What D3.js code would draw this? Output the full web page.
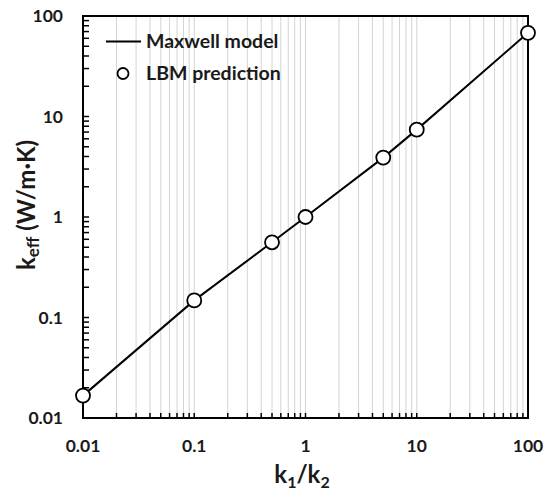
<!DOCTYPE html>
<html><head><meta charset="utf-8">
<script src="https://cdn.jsdelivr.net/npm/d3@7"></script>
<style>body{margin:0;background:#fff}svg{display:block}text{font-family:Lato,"Open Sans",sans-serif;font-weight:bold;fill:#1a1a1a}</style>
</head><body>
<script>
const ratios = [0.01, 0.1, 0.5, 1, 5, 10, 100];
const lbmValues = [0.0167, 0.148, 0.56, 1.0, 3.9, 7.4, 68];
const maxwellRatios = [0.01, 0.1, 0.5, 1, 5, 10, 100];
const maxwellValues = [0.0167, 0.148, 0.56, 1.0, 3.9, 7.4, 68];
const xTicks = [0.01, 0.1, 1, 10, 100];
const yTicks = [0.01, 0.1, 1, 10, 100];
const xTickLabels = ["0.01", "0.1", "1", "10", "100"];
const yTickLabels = ["0.01", "0.1", "1", "10", "100"];

const W = 545, H = 492;
const m = {l: 83, r: 17, t: 16, b: 74};
const svg = d3.select("body").append("svg").attr("width", W).attr("height", H);
const x = d3.scaleLog().domain([0.01, 100]).range([m.l, W - m.r]);
const y = d3.scaleLog().domain([0.01, 100]).range([H - m.b, m.t]);

const minors = [];
for (let e = -2; e < 2; e++) for (let k = 2; k <= 9; k++) minors.push(k * Math.pow(10, e));

svg.append("g").selectAll("line").data(minors.concat([0.1, 1, 10])).join("line")
  .attr("x1", d => x(d)).attr("x2", d => x(d))
  .attr("y1", y(100)).attr("y2", y(0.01))
  .attr("stroke", "#d4d4d4").attr("stroke-width", 1);

const tickLen = 5;
svg.append("g").selectAll("line").data(minors.concat(xTicks)).join("line")
  .attr("x1", d => x(d)).attr("x2", d => x(d))
  .attr("y1", y(0.01)).attr("y2", y(0.01) - tickLen)
  .attr("stroke", "#000").attr("stroke-width", 1.5);
svg.append("g").selectAll("line").data(minors.concat(yTicks)).join("line")
  .attr("y1", d => y(d)).attr("y2", d => y(d))
  .attr("x1", x(0.01)).attr("x2", x(0.01) + tickLen + 1)
  .attr("stroke", "#000").attr("stroke-width", 1.5);

svg.append("rect").attr("x", x(0.01)).attr("y", y(100))
  .attr("width", x(100) - x(0.01)).attr("height", y(0.01) - y(100))
  .attr("fill", "none").attr("stroke", "#000").attr("stroke-width", 2);

svg.append("g").selectAll("text").data(xTicks).join("text")
  .attr("x", d => x(d)).attr("y", y(0.01) + 34)
  .attr("text-anchor", "middle").attr("font-size", 17.5)
  .text((d, i) => xTickLabels[i]);
svg.append("g").selectAll("text").data(yTicks).join("text")
  .attr("x", x(0.01) - 20).attr("y", d => y(d) + 6)
  .attr("text-anchor", "end").attr("font-size", 17.5)
  .text((d, i) => yTickLabels[i]);

const line = d3.line().x((d, i) => x(maxwellRatios[i])).y(d => y(d));
svg.append("path").datum(maxwellValues).attr("d", line)
  .attr("fill", "none").attr("stroke", "#000").attr("stroke-width", 2);

svg.append("g").selectAll("circle").data(lbmValues).join("circle")
  .attr("cx", (d, i) => x(ratios[i])).attr("cy", d => y(d)).attr("r", 7)
  .attr("fill", "#fff").attr("stroke", "#000").attr("stroke-width", 1.8);

const xt = svg.append("text").attr("x", 302).attr("y", 483)
  .attr("text-anchor", "middle").attr("font-size", 24);
xt.append("tspan").text("k");
xt.append("tspan").attr("font-size", 16).attr("dy", 5).text("1");
xt.append("tspan").attr("dy", -5).text("/k");
xt.append("tspan").attr("font-size", 16).attr("dy", 5).text("2");

const yt = svg.append("text").attr("transform", "translate(35,205) rotate(-90)")
  .attr("text-anchor", "middle").attr("font-size", 24);
yt.append("tspan").text("k");
yt.append("tspan").attr("font-size", 17).attr("dy", 4).text("eff");
yt.append("tspan").attr("dy", -4).text(" (W/m\u00B7K)");

svg.append("line").attr("x1", 106).attr("x2", 141).attr("y1", 41.5).attr("y2", 41.5)
  .attr("stroke", "#000").attr("stroke-width", 2);
svg.append("text").attr("x", 146).attr("y", 48).attr("font-size", 19.5).text("Maxwell model");
svg.append("circle").attr("cx", 123).attr("cy", 73.5).attr("r", 5.5)
  .attr("fill", "#fff").attr("stroke", "#000").attr("stroke-width", 1.8);
svg.append("text").attr("x", 146).attr("y", 80).attr("font-size", 19.5).text("LBM prediction");
</script>
</body></html>
